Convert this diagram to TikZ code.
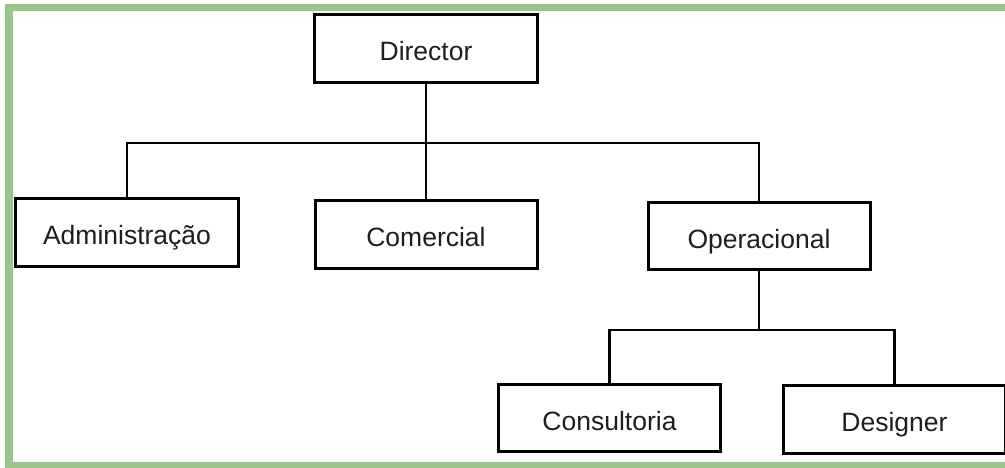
\documentclass[tikz,border=0pt]{standalone}
\usepackage{fontspec}
\setmainfont{Liberation Sans}
\definecolor{framegreen}{RGB}{158,196,142}
\definecolor{inkgray}{RGB}{30,30,30}
\begin{document}
\begin{tikzpicture}[x=1pt,y=-1pt,
  orgbox/.style={draw=black, line width=3pt, rectangle, fill=white,
    minimum width=222pt, minimum height=67pt, inner sep=0pt,
    text height=24pt, text depth=0pt,
    font=\fontsize{26.5}{30}\selectfont, text=inkgray},
  link/.style={draw=black, line width=2.6pt}]
\useasboundingbox (0,0) rectangle (1005,468);
\clip (0,0) rectangle (1005,468);
\fill[white] (0,0) rectangle (1005,468);
% frame
\fill[framegreen] (5,4) rectangle (1005,11.5);
\fill[framegreen] (5,4) rectangle (12.5,468);
\fill[framegreen] (5,462) rectangle (1005,468);
% nodes
\node[orgbox, minimum width=223pt, minimum height=68pt] (dir) at (426,48.5) {Director};
\node[orgbox, minimum width=223pt, minimum height=68pt] (adm) at (127,232.5) {Administração};
\node[orgbox] (com) at (426,234.5) {Comercial};
\node[orgbox] (ope) at (759,236) {Operacional};
\node[orgbox] (con) at (609.5,418) {Consultoria};
\node[orgbox, minimum height=68pt] (des) at (894.5,419.5) {Designer};
% branch points
\coordinate (b1) at (426,143);
\coordinate (b2) at (759,330);
% connectors
\draw[link] (dir.south) -- (com.north);
\draw[link] (adm.north) |- (b1) -| (ope.north);
\draw[link] (ope.south) -- (b2);
\draw[link] (con.north) |- (b2) -| (des.north);
\end{tikzpicture}
\end{document}
